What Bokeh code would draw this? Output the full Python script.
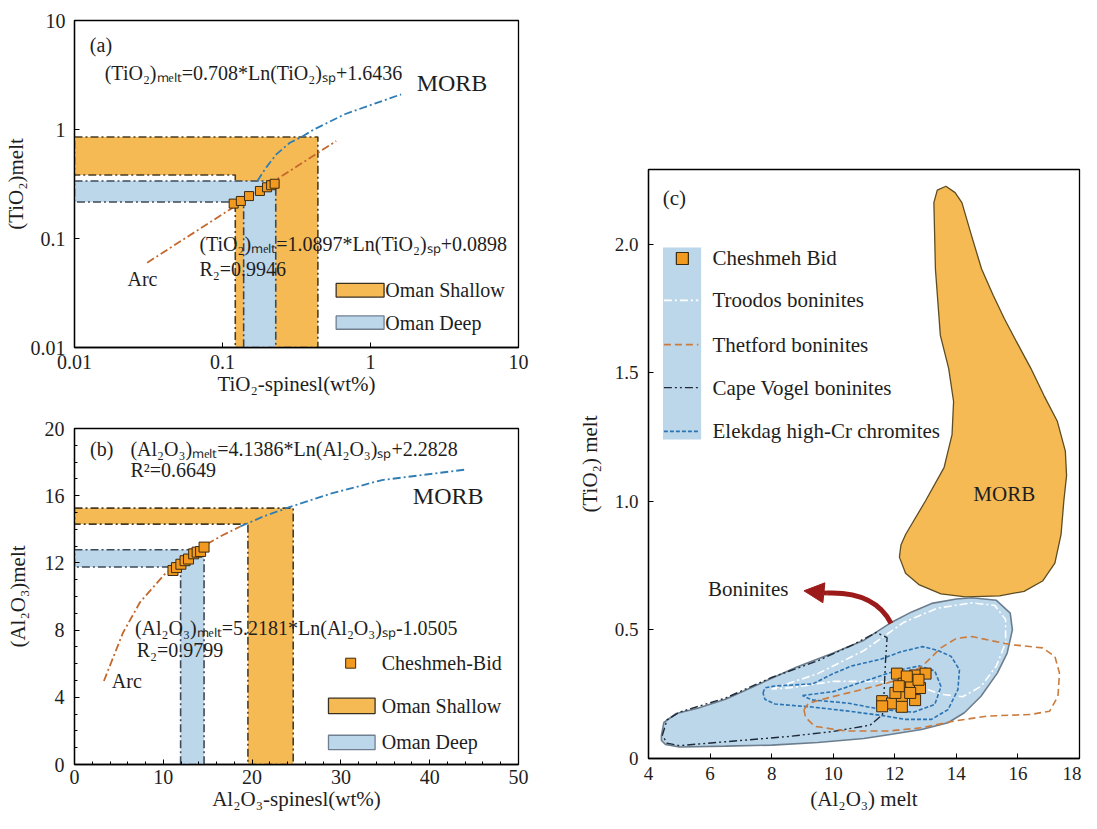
from bokeh.plotting import figure
from bokeh.layouts import row, column
from bokeh.models import FixedTicker, CustomJSTickFormatter, Arrow, NormalHead
from bokeh.core.properties import value
from bokeh.embed import file_html
from bokeh.resources import INLINE

FONT = "Liberation Serif"
TXT = "#1e1e1e"
ORANGE = "#F6BA55"
LBLUE = "#BCD6EA"
SQ_FILL = "#F29A1F"
SQ_LINE = "#3b2a12"
ARC_COL = "#C4682C"
MORB_COL = "#2F7DB4"

# ---------------- Panel (a) data (log-log) ----------------
a_pts_x = [0.119, 0.133, 0.151, 0.179, 0.200, 0.213, 0.225]
a_pts_y = [0.209, 0.221, 0.245, 0.273, 0.295, 0.308, 0.318]
a_arc_x = [0.031, 0.586]
a_arc_y = [0.060, 0.783]
a_morb_x = [0.172, 0.197, 0.231, 0.285, 0.335, 0.415, 0.67, 1.03, 1.61]
a_morb_y = [0.337, 0.447, 0.592, 0.756, 0.841, 1.0, 1.38, 1.70, 2.10]
a_shallow_x = [0.01, 0.441, 0.441, 0.122, 0.122, 0.01]
a_shallow_y = [0.853, 0.853, 0.01, 0.01, 0.383, 0.383]
a_deep_x = [0.01, 0.229, 0.229, 0.139, 0.139, 0.01]
a_deep_y = [0.337, 0.337, 0.01, 0.01, 0.216, 0.216]
a_ticks = [0.01, 0.1, 1, 10]

# ---------------- Panel (b) data ----------------
b_pts_x = [11.09, 11.48, 11.98, 12.45, 12.84, 13.42, 13.81, 14.2, 14.59]
b_pts_y = [11.55, 11.72, 11.92, 12.13, 12.23, 12.54, 12.64, 12.68, 12.94]
b_arc_x = [3.31, 5.45, 7.39, 10.12, 13.62, 16.73, 18.68]
b_arc_y = [4.97, 7.83, 9.67, 11.31, 12.74, 13.66, 14.17]
b_morb_x = [18.68, 21.4, 24.12, 28.79, 34.63, 43.97]
b_morb_y = [14.17, 14.79, 15.30, 16.11, 16.93, 17.55]
b_shallow_x = [0, 24.63, 24.63, 19.53, 19.53, 0]
b_shallow_y = [15.26, 15.26, 0, 0, 14.31, 14.31]
b_deep_x = [0, 14.59, 14.59, 11.95, 11.95, 0]
b_deep_y = [12.78, 12.78, 0, 0, 11.76, 11.76]
b_xticks = [0, 10, 20, 30, 40, 50]
b_yticks = [0, 4, 8, 12, 16, 20]

# ---------------- Panel (c) data ----------------
c_pts_x = [12.07, 12.66, 13.0, 12.29, 12.53, 12.82, 11.59, 11.91, 12.23,
           12.23, 12.66, 12.50, 12.02, 11.59, 12.39, 12.77, 12.13]
c_pts_y = [0.330, 0.323, 0.330, 0.291, 0.291, 0.274, 0.223, 0.214, 0.242,
           0.201, 0.227, 0.255, 0.255, 0.203, 0.319, 0.306, 0.281]
c_morb_x = [13.66, 13.96, 14.18, 14.5, 14.82, 15.2, 15.56, 16.0, 16.42, 16.85,
            17.28, 17.54, 17.58, 17.49, 17.4, 17.2, 16.8, 16.2, 15.4, 14.3,
            13.5, 12.8, 12.35, 12.15, 12.2, 12.36, 13.0, 13.6, 13.86, 13.91,
            13.75, 13.48, 13.32, 13.27, 13.38]
c_morb_y = [2.225, 2.20, 2.161, 2.03, 1.903, 1.80, 1.71, 1.61, 1.517, 1.41,
            1.311, 1.195, 1.10, 1.0, 0.87, 0.76, 0.69, 0.65, 0.632, 0.628,
            0.64, 0.675, 0.72, 0.783, 0.83, 0.873, 1.002, 1.131, 1.259, 1.388,
            1.517, 1.645, 1.903, 2.161, 2.21]
c_bon_x = [4.42, 4.5, 4.9, 5.6, 6.5, 7.6, 8.8, 10.0, 11.0, 11.9, 12.55, 13.2,
           14.0, 14.5, 15.3, 15.75, 15.82, 15.65, 15.33, 14.8, 14.26, 13.73,
           12.87, 11.9, 11.0, 9.5, 8.0, 6.5, 5.0, 4.55, 4.42]
c_bon_y = [0.09, 0.14, 0.175, 0.195, 0.23, 0.29, 0.355, 0.41, 0.46, 0.53,
           0.57, 0.603, 0.62, 0.625, 0.615, 0.565, 0.5, 0.41, 0.332, 0.242,
           0.178, 0.139, 0.113, 0.094, 0.078, 0.062, 0.052, 0.048, 0.045,
           0.055, 0.07]
c_troodos_x = [8.0, 9.5, 11.0, 12.3, 13.4, 14.5, 15.25, 15.6, 15.6, 15.3, 14.8,
               14.2, 13.5, 12.8, 11.5, 10.0, 8.6, 8.0]
c_troodos_y = [0.27, 0.33, 0.42, 0.53, 0.585, 0.605, 0.595, 0.54, 0.45, 0.36,
               0.28, 0.24, 0.25, 0.28, 0.30, 0.30, 0.275, 0.27]
c_thetford_x = [9.05, 9.2, 9.9, 11.0, 12.1, 12.9, 13.5, 14.0, 14.5, 15.75,
                16.8, 17.2, 17.35, 17.3, 17.03, 16.4, 15.0, 13.9, 12.9, 11.8,
                10.4, 9.4, 9.1, 9.05]
c_thetford_y = [0.19, 0.215, 0.238, 0.27, 0.305, 0.36, 0.43, 0.467, 0.474,
                0.443, 0.43, 0.397, 0.332, 0.242, 0.184, 0.171, 0.165, 0.145,
                0.12, 0.107, 0.107, 0.125, 0.16, 0.19]
c_vogel_x = [4.45, 4.6, 5.0, 6.5, 8.0, 9.5, 10.6, 11.4, 11.75, 11.7, 11.65,
             11.6, 11.2, 10.0, 8.5, 6.5, 5.0, 4.6, 4.45]
c_vogel_y = [0.09, 0.15, 0.18, 0.235, 0.315, 0.38, 0.44, 0.49, 0.47, 0.38,
             0.25, 0.17, 0.13, 0.105, 0.085, 0.065, 0.05, 0.06, 0.09]
c_elek1_x = [7.72, 7.78, 8.11, 9.33, 10.0, 10.6, 11.54, 12.2, 12.9, 13.4,
             13.83, 14.1, 14.05, 13.73, 13.19, 12.34, 11.54, 10.43, 9.33,
             8.11, 7.78, 7.72]
c_elek1_y = [0.255, 0.275, 0.282, 0.29, 0.33, 0.36, 0.386, 0.415, 0.435,
             0.42, 0.397, 0.345, 0.268, 0.19, 0.152, 0.152, 0.168, 0.185,
             0.2, 0.212, 0.23, 0.255]
c_elek2_x = [9.0, 10.0, 11.0, 12.0, 12.8, 13.3, 13.5, 13.3, 12.6, 11.6, 10.5,
             9.3, 9.0]
c_elek2_y = [0.245, 0.26, 0.30, 0.34, 0.36, 0.34, 0.28, 0.21, 0.18, 0.19,
             0.215, 0.228, 0.245]
c_xticks = [4, 6, 8, 10, 12, 14, 16, 18]
c_yticks = [0, 0.5, 1.0, 1.5, 2.0]

# equation / label texts
A_TEXTS = ["(a)", "(TiO\u2082)\u2098\u2091\u2097\u209c=0.708*Ln(TiO\u2082)\u209b\u209a+1.6436",
           "(TiO\u2082)\u2098\u2091\u2097\u209c=1.0897*Ln(TiO\u2082)\u209b\u209a+0.0898",
           "R\u2082=0.9946", "Arc"]
B_TEXTS = ["(b)", "(Al\u2082O\u2083)\u2098\u2091\u2097\u209c=4.1386*Ln(Al\u2082O\u2083)\u209b\u209a+2.2828",
           "R\u00b2=0.6649",
           "(Al\u2082O\u2083)\u2098\u2091\u2097\u209c=5.2181*Ln(Al\u2082O\u2083)\u209b\u209a-1.0505",
           "R\u2082=0.9799", "Arc"]
C_LEGEND = ["Cheshmeh Bid", "Troodos boninites", "Thetford boninites",
            "Cape Vogel boninites", "Elekdag high-Cr chromites"]


def style(p, tick_fs="20px", lab_fs="21px"):
    p.outline_line_color = "black"
    p.outline_line_width = 1.3
    p.xgrid.visible = False
    p.ygrid.visible = False
    p.background_fill_color = "white"
    p.border_fill_color = "white"
    for ax in (p.xaxis[0], p.yaxis[0]):
        ax.axis_line_color = "black"
        ax.axis_line_width = 1.3
        ax.major_tick_in = 5
        ax.major_tick_out = 0
        ax.minor_tick_in = 3
        ax.minor_tick_out = 0
        ax.major_tick_line_color = "black"
        ax.minor_tick_line_color = "black"
        ax.major_label_text_font = FONT
        ax.major_label_text_font_size = tick_fs
        ax.major_label_text_color = TXT
        ax.axis_label_text_font = FONT
        ax.axis_label_text_font_size = lab_fs
        ax.axis_label_text_font_style = "normal"
        ax.axis_label_text_color = TXT


def txt(p, xs, ys, texts, size="20px", align="left"):
    p.text(x=xs, y=ys, text=texts, text_font=value(FONT), text_font_size=size,
           text_color=TXT, text_baseline="middle", text_align=align)


# ================= Panel (a) =================
pa = figure(width=540, height=400, x_axis_type="log", y_axis_type="log",
            x_range=(0.01, 10), y_range=(0.01, 10), output_backend="svg",
            toolbar_location=None, min_border_left=73, min_border_right=20,
            min_border_top=20, min_border_bottom=53)
style(pa)
pa.xaxis.axis_label = "TiO\u2082-spinesl(wt%)"
pa.yaxis.axis_label = "(TiO\u2082)melt"
pa.xaxis.ticker = FixedTicker(ticks=a_ticks, minor_ticks=[])
pa.yaxis.ticker = FixedTicker(ticks=a_ticks, minor_ticks=[])
pa.xaxis.formatter = CustomJSTickFormatter(code="return String(tick);")
pa.yaxis.formatter = CustomJSTickFormatter(code="return String(tick);")
pa.xaxis.major_label_standoff = 7
pa.yaxis.major_label_standoff = 9
pa.xaxis.axis_label_standoff = 0
pa.yaxis.axis_label_standoff = 0

pa.patch(a_shallow_x, a_shallow_y, fill_color=ORANGE, line_color="#4a3c22",
         line_dash="8 3 2 3", line_width=1.6)
pa.patch(a_deep_x, a_deep_y, fill_color=LBLUE, line_color="#3d4958",
         line_dash="8 3 2 3", line_width=1.6)
pa.line(a_arc_x, a_arc_y, line_color=ARC_COL, line_dash="8 3 2 3", line_width=1.8)
pa.line(a_morb_x, a_morb_y, line_color=MORB_COL, line_dash="8 3 2 3", line_width=1.8)
pa.scatter(a_pts_x, a_pts_y, marker="square", size=9, fill_color=SQ_FILL,
           line_color=SQ_LINE, line_width=1)
txt(pa, [0.0127, 0.016, 0.0698, 0.0698, 0.0228],
    [6.0, 3.31, 0.0885, 0.0523, 0.0423], A_TEXTS)
txt(pa, [2.05], [2.69], ["MORB"], size="24px")
# legend
pa.quad(left=[0.586], right=[1.235], bottom=[0.029], top=[0.0387],
        fill_color=ORANGE, line_color="#3a3020", line_width=1.3)
pa.quad(left=[0.586], right=[1.235], bottom=[0.0147], top=[0.0195],
        fill_color=LBLUE, line_color="#6f7f90", line_width=1.3)
txt(pa, [1.26, 1.26], [0.0336, 0.0169], ["Oman Shallow", "Oman Deep"])

# ================= Panel (b) =================
pb = figure(width=540, height=413, x_range=(0, 50), y_range=(0, 20),
            output_backend="svg", toolbar_location=None, min_border_left=73,
            min_border_right=22, min_border_top=28, min_border_bottom=49)
style(pb)
pb.xaxis.axis_label = "Al\u2082O\u2083-spinesl(wt%)"
pb.yaxis.axis_label = "(Al\u2082O\u2083)melt"
pb.xaxis.ticker = FixedTicker(ticks=b_xticks, minor_ticks=list(range(0, 51, 2)))
pb.yaxis.ticker = FixedTicker(ticks=b_yticks, minor_ticks=list(range(0, 21, 1)))
pb.xaxis.major_label_standoff = 5
pb.yaxis.major_label_standoff = 10
pb.xaxis.axis_label_standoff = 0
pb.yaxis.axis_label_standoff = 12

pb.patch(b_shallow_x, b_shallow_y, fill_color=ORANGE, line_color="#4a3c22",
         line_dash="8 3 2 3", line_width=1.6)
pb.patch(b_deep_x, b_deep_y, fill_color=LBLUE, line_color="#3d4958",
         line_dash="8 3 2 3", line_width=1.6)
pb.line(b_arc_x, b_arc_y, line_color=ARC_COL, line_dash="8 3 2 3", line_width=1.8)
pb.line(b_morb_x, b_morb_y, line_color=MORB_COL, line_dash="8 3 2 3", line_width=1.8)
pb.scatter(b_pts_x, b_pts_y, marker="square", size=10, fill_color=SQ_FILL,
           line_color=SQ_LINE, line_width=1)
txt(pb, [1.75, 6.3, 6.3, 6.8, 7.0, 4.2],
    [18.77, 18.77, 17.55, 8.14, 6.81, 4.97], B_TEXTS)
txt(pb, [38.1], [16.0], ["MORB"], size="24px")
# legend
pb.scatter([31.1], [6.03], marker="square", size=10, fill_color=SQ_FILL,
           line_color=SQ_LINE, line_width=1)
pb.quad(left=[28.6], right=[33.85], bottom=[3.03], top=[3.95],
        fill_color=ORANGE, line_color="#3a3020", line_width=1.3)
pb.quad(left=[28.6], right=[33.85], bottom=[0.88], top=[1.74],
        fill_color=LBLUE, line_color="#6f7f90", line_width=1.3)
txt(pb, [34.6, 34.6, 34.6], [6.03, 3.5, 1.33],
    ["Cheshmeh-Bid", "Oman Shallow", "Oman Deep"])

# ================= Panel (c) =================
pc = figure(width=541, height=813, x_range=(4, 18), y_range=(0, 2.29),
            output_backend="svg", toolbar_location=None, min_border_left=108,
            min_border_right=2, min_border_top=169, min_border_bottom=55)
style(pc, tick_fs="19px", lab_fs="21px")
pc.xaxis.axis_label = "(Al\u2082O\u2083) melt"
pc.yaxis.axis_label = "(TiO\u2082) melt"
pc.xaxis.ticker = FixedTicker(ticks=c_xticks, minor_ticks=[])
pc.yaxis.ticker = FixedTicker(ticks=c_yticks, minor_ticks=[])
pc.yaxis.formatter = CustomJSTickFormatter(
    code="return tick === 0 ? '0' : tick.toFixed(1);")
pc.xaxis.major_label_standoff = 8
pc.yaxis.major_label_standoff = 10
pc.xaxis.axis_label_standoff = 4
pc.yaxis.axis_label_standoff = 10

pc.patch(c_morb_x, c_morb_y, fill_color=ORANGE, line_color="#5e4d22", line_width=1.3)
pc.patch(c_bon_x, c_bon_y, fill_color=LBLUE, line_color="#6c7e8e", line_width=1.6)
pc.line(c_troodos_x, c_troodos_y, line_color="white", line_dash="8 3 2 3", line_width=1.6)
pc.line(c_elek1_x, c_elek1_y, line_color="#2A74B4", line_dash="4 2", line_width=1.6)
pc.line(c_elek2_x, c_elek2_y, line_color="#2A74B4", line_dash="4 2", line_width=1.6)
pc.line(c_vogel_x, c_vogel_y, line_color="#1d2a38", line_dash="8 3 2 3 2 3", line_width=1.4)
pc.line(c_thetford_x, c_thetford_y, line_color="#CB7B3C", line_dash="7 4", line_width=1.6)
pc.scatter(c_pts_x, c_pts_y, marker="square", size=11, fill_color=SQ_FILL,
           line_color=SQ_LINE, line_width=1)

# legend of panel (c)
pc.quad(left=[4.47], right=[5.71], bottom=[1.24], top=[1.987],
        fill_color=LBLUE, line_color=None)
leg_y = [1.944, 1.781, 1.609, 1.442, 1.272]
pc.scatter([5.10], [leg_y[0]], marker="square", size=12, fill_color=SQ_FILL,
           line_color=SQ_LINE, line_width=1.2)
pc.line([4.5, 5.62], [leg_y[1]] * 2, line_color="white", line_dash="8 3 2 3", line_width=1.6)
pc.line([4.5, 5.62], [leg_y[2]] * 2, line_color="#CB7B3C", line_dash="7 4", line_width=1.6)
pc.line([4.5, 5.62], [leg_y[3]] * 2, line_color="#1d2a38", line_dash="8 3 2 3 2 3", line_width=1.4)
pc.line([4.5, 5.62], [leg_y[4]] * 2, line_color="#2A74B4", line_dash="4 2", line_width=1.6)
txt(pc, [6.08] * 5, leg_y, C_LEGEND, size="21px")
txt(pc, [4.46, 14.55, 5.93], [2.18, 1.027, 0.66], ["(c)", "MORB", "Boninites"], size="21px")

# curved arrow
RED = "#9C1A1A"
pc.quadratic(x0=[11.88], y0=[0.525], x1=[9.8], y1=[0.643], cx=[11.35], cy=[0.65],
             line_color=RED, line_width=5)
pc.add_layout(Arrow(end=NormalHead(size=20, fill_color=RED, line_color=RED),
                    x_start=9.8, y_start=0.643, x_end=9.05, y_end=0.652,
                    line_color=RED, line_width=5))

layout = row(column(pa, pb), pc)
open("out.html", "w").write(file_html(layout, INLINE, "chart"))
